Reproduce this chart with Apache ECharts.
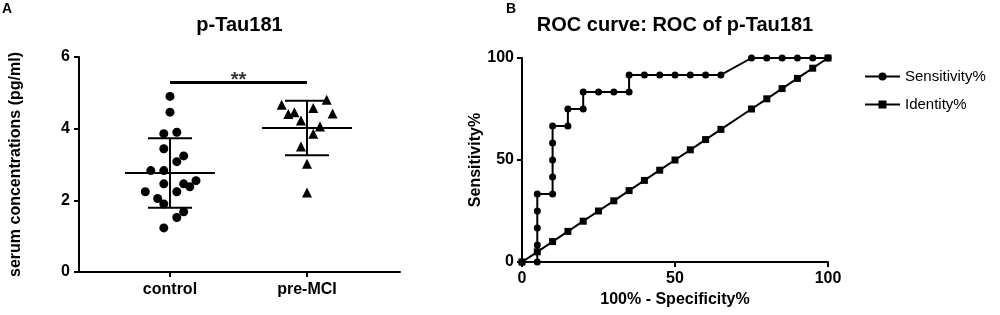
<!DOCTYPE html>
<html>
<head>
<meta charset="utf-8">
<script src="https://cdn.jsdelivr.net/npm/echarts@6/dist/echarts.min.js"></script>
<style>
  html, body { margin: 0; padding: 0; background: #fff; }
  #chart { width: 1000px; height: 315px; }
</style>
</head>
<body>
<div id="chart"></div>
<script>
// ---- panel A data ----
const groups = ['control', 'pre-MCI']
const controlValues = [4.90, 4.46, 3.86, 3.90, 3.44, 3.24, 3.08, 2.83, 2.83, 2.46, 2.46, 2.55, 2.38, 2.24, 2.24, 2.05, 1.90, 1.68, 1.52, 1.23]
const controlJitter = [0.00, 0.00, -0.045, 0.05, -0.045, 0.10, 0.05, -0.14, -0.045, -0.045, 0.10, 0.19, 0.145, -0.18, 0.05, -0.09, -0.045, 0.10, 0.05, -0.045]
const preValues = [4.67, 4.41, 4.46, 4.23, 4.58, 4.81, 4.42, 4.06, 3.86, 3.50, 3.02, 2.22]
const preJitter = [-0.185, -0.136, -0.092, -0.044, 0.046, 0.144, 0.187, 0.095, 0.046, -0.044, 0.00, 0.00]
const groupMean = [2.76, 4.02]
const groupSD = [0.97, 0.76]
const sigLevel = 5.29
const sigLabel = '**'
const yTicksA = [0, 6, 2]   // min, max, interval

// ---- panel B data (ROC) ----
const rocX = [0, 5, 5, 5, 5, 5, 10, 10, 10, 10, 10, 15, 15, 20, 20, 25, 30, 35, 35, 40, 45, 50, 55, 60, 65, 75, 80, 85, 90, 95, 100]
const rocSensitivity = [0, 0, 8.33, 16.67, 25, 33.33, 33.33, 41.67, 50, 58.33, 66.67, 66.67, 75, 75, 83.33, 83.33, 83.33, 83.33, 91.67, 91.67, 91.67, 91.67, 91.67, 91.67, 91.67, 100, 100, 100, 100, 100, 100]
const identityX = [0, 5, 10, 15, 20, 25, 30, 35, 40, 45, 50, 55, 60, 65, 75, 80, 85, 90, 95, 100]
const identityY = [0, 5, 10, 15, 20, 25, 30, 35, 40, 45, 50, 55, 60, 65, 75, 80, 85, 90, 95, 100]
const yTicksB = [0, 100, 50]

const FONT = '"Liberation Sans", Arial, Helvetica, sans-serif'

const el = document.getElementById('chart')
const chart = echarts.init(el, null, { renderer: 'canvas', width: 1000, height: 315 })

const axisCommon = {
  axisLine: { show: true, onZero: false, lineStyle: { color: '#000', width: 2 } },
  axisTick: { show: true, inside: false, length: 5, lineStyle: { color: '#000', width: 2 } },
  splitLine: { show: false },
  axisLabel: { color: '#000', fontFamily: FONT, fontWeight: 'bold', fontSize: 16 },
  nameTextStyle: { color: '#000', fontFamily: FONT, fontWeight: 'bold', fontSize: 16 }
}

const controlPts = controlValues.map((v, i) => [1 + controlJitter[i], v])
const prePts = preValues.map((v, i) => [2 + preJitter[i], v])
const summary = groupMean.map((m, i) => [i + 1, m, m - groupSD[i], m + groupSD[i]])

const option = {
  animation: false,
  backgroundColor: '#fff',
  textStyle: { fontFamily: FONT },
  graphic: [
    { type: 'text', left: 2, top: 2, style: { text: 'A', font: 'bold 14px ' + FONT, fill: '#000' } },
    { type: 'text', left: 506, top: 2, style: { text: 'B', font: 'bold 14px ' + FONT, fill: '#000' } },
    { type: 'text', x: 239.5, y: 25, style: { text: 'p-Tau181', font: 'bold 20px ' + FONT, fill: '#000', align: 'center', verticalAlign: 'middle' } },
    { type: 'text', x: 675, y: 25, style: { text: 'ROC curve: ROC of p-Tau181', font: 'bold 20px ' + FONT, fill: '#000', align: 'center', verticalAlign: 'middle' } }
  ],
  legend: {
    data: ['Sensitivity%', 'Identity%'],
    orient: 'vertical',
    left: 859,
    top: 64,
    itemWidth: 35,
    itemHeight: 10,
    itemGap: 13,
    textStyle: { color: '#000', fontFamily: FONT, fontSize: 15 }
  },
  grid: [
    { left: 79, top: 57, width: 321, height: 215 },
    { left: 522, top: 58, width: 306, height: 204 }
  ],
  xAxis: [
    Object.assign({}, axisCommon, {
      gridIndex: 0,
      type: 'value',
      min: 0.336,
      max: 2.679,
      axisTick: Object.assign({}, axisCommon.axisTick, { customValues: [1, 2] }),
      axisLabel: Object.assign({}, axisCommon.axisLabel, {
        customValues: [1, 2],
        margin: 10,
        formatter: v => groups[Math.round(v) - 1]
      })
    }),
    Object.assign({}, axisCommon, {
      gridIndex: 1,
      type: 'value',
      min: yTicksB[0],
      max: yTicksB[1],
      interval: yTicksB[2],
      name: '100% - Specificity%',
      nameLocation: 'middle',
      nameGap: 30,
      axisLabel: Object.assign({}, axisCommon.axisLabel, { margin: 9 })
    })
  ],
  yAxis: [
    Object.assign({}, axisCommon, {
      gridIndex: 0,
      type: 'value',
      min: yTicksA[0],
      max: yTicksA[1],
      interval: yTicksA[2],
      name: 'serum concentrations (pg/ml)',
      nameLocation: 'middle',
      nameGap: 55,
      axisLabel: Object.assign({}, axisCommon.axisLabel, { margin: 9 })
    }),
    Object.assign({}, axisCommon, {
      gridIndex: 1,
      type: 'value',
      min: yTicksB[0],
      max: yTicksB[1],
      interval: yTicksB[2],
      name: 'Sensitivity%',
      nameLocation: 'middle',
      nameGap: 34,
      axisLabel: Object.assign({}, axisCommon.axisLabel, { margin: 8 })
    })
  ],
  series: [
    {
      name: 'control',
      type: 'scatter',
      xAxisIndex: 0, yAxisIndex: 0,
      symbol: 'circle',
      symbolSize: 9,
      itemStyle: { color: '#000', opacity: 1 },
      data: controlPts,
      z: 3
    },
    {
      name: 'pre-MCI',
      type: 'scatter',
      xAxisIndex: 0, yAxisIndex: 0,
      symbol: 'triangle',
      symbolSize: 10,
      itemStyle: { color: '#000', opacity: 1 },
      data: prePts,
      z: 3
    },
    {
      name: 'mean ± SD',
      type: 'custom',
      xAxisIndex: 0, yAxisIndex: 0,
      data: summary,
      z: 4,
      renderItem: function (params, api) {
        const x = api.value(0)
        const pm = api.coord([x, api.value(1)])
        const pl = api.coord([x, api.value(2)])
        const ph = api.coord([x, api.value(3)])
        const st = { stroke: '#000', lineWidth: 2 }
        return {
          type: 'group',
          children: [
            { type: 'line', shape: { x1: pm[0] - 45, y1: pm[1], x2: pm[0] + 45, y2: pm[1] }, style: st },
            { type: 'line', shape: { x1: pl[0], y1: pl[1], x2: ph[0], y2: ph[1] }, style: st },
            { type: 'line', shape: { x1: pl[0] - 22, y1: pl[1], x2: pl[0] + 22, y2: pl[1] }, style: st },
            { type: 'line', shape: { x1: ph[0] - 22, y1: ph[1], x2: ph[0] + 22, y2: ph[1] }, style: st }
          ]
        }
      }
    },
    {
      name: 'significance',
      type: 'line',
      xAxisIndex: 0, yAxisIndex: 0,
      symbol: 'none',
      lineStyle: { color: '#000', width: 3 },
      data: [[1, sigLevel], [2, sigLevel]]
    },
    {
      name: 'sigLabel',
      type: 'scatter',
      xAxisIndex: 0, yAxisIndex: 0,
      symbolSize: 0,
      data: [[1.5, sigLevel]],
      label: {
        show: true,
        position: 'top',
        distance: -8,
        formatter: sigLabel,
        color: '#000',
        fontFamily: FONT,
        fontWeight: 'bold',
        fontSize: 20
      }
    },
    {
      name: 'Sensitivity%',
      type: 'line',
      xAxisIndex: 1, yAxisIndex: 1,
      symbol: 'circle',
      symbolSize: 7,
      itemStyle: { color: '#000', opacity: 1 },
      lineStyle: { color: '#000', width: 2 },
      data: rocX.map((x, i) => [x, rocSensitivity[i]]),
      z: 4
    },
    {
      name: 'Identity%',
      type: 'line',
      xAxisIndex: 1, yAxisIndex: 1,
      symbol: 'rect',
      symbolSize: 7,
      itemStyle: { color: '#000', opacity: 1 },
      lineStyle: { color: '#000', width: 2 },
      data: identityX.map((x, i) => [x, identityY[i]]),
      z: 3
    }
  ]
}

chart.setOption(option)
</script>
</body>
</html>
